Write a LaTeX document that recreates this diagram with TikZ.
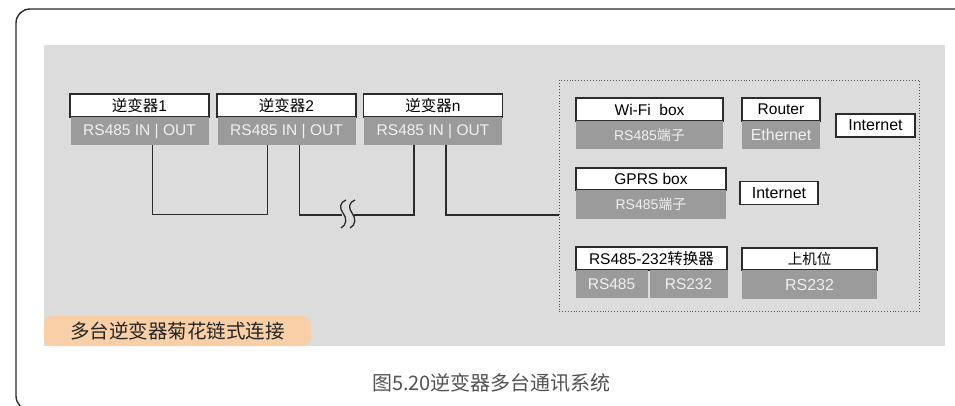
\documentclass[tikz,border=0pt]{standalone}
\usepackage{fontspec}
\setmainfont{Liberation Sans}
\newfontfamily\cjk{Noto Sans CJK SC}
\usetikzlibrary{calc}
\definecolor{bggray}{HTML}{DCDCDC}
\definecolor{portgray}{HTML}{9B9B9B}
\definecolor{tagorange}{HTML}{F8CFA6}
\definecolor{wirecol}{HTML}{2B2B2B}

\begin{document}
\begin{tikzpicture}[x=1pt,y=-1pt,
    wire/.style={draw=wirecol,line width=1.3pt},
    labelbox/.style={draw=wirecol,line width=1.4pt,fill=white,inner sep=0pt,
        minimum height=23pt,font=\fontsize{15.5}{16}\selectfont},
    portbox/.style={fill=portgray,inner sep=0pt,minimum height=28pt,anchor=north,
        text=white!94!black,font=\fontsize{15.5}{16}\selectfont},
    netbox/.style={draw=wirecol,line width=1.4pt,fill=white,inner sep=0pt,
        minimum width=78pt,minimum height=23pt,font=\fontsize{16}{16}\selectfont}]
    \useasboundingbox (0,0) rectangle (955,405);
    \clip (0,0) rectangle (955,405);
    % frame and background
    \draw[wirecol,line width=1.4pt,rounded corners=14pt] (16,9) rectangle (990,410);
    \fill[bggray] (44,45) rectangle (945,346);
    \node[fill=tagorange,rounded corners=8pt,minimum width=267pt,minimum height=30pt,
        inner sep=0pt,font=\cjk\fontsize{19.5}{20}\selectfont,text=black!85] (tag)
        at (177.5,331) {多台逆变器菊花链式连接};
    \node[font=\cjk\fontsize{20}{20}\selectfont,text=black!68] (caption)
        at (491.5,383) {图5.20逆变器多台通讯系统};
    % inverters
    \foreach \n/\cx/\t in {1/139.5/1,2/286.5/2,n/433/n}{
        \node[labelbox,minimum width=139pt] (inv\n) at (\cx,105.5) {{\cjk 逆变器}\t};
        \node[portbox,minimum width=138pt] (inv\n p) at ([yshift=0.7pt]inv\n.south) {RS485 IN | OUT};
        \coordinate (inv\n in) at ([xshift=-19pt]inv\n p.south);
        \coordinate (inv\n out) at ([xshift=13pt]inv\n p.south);
    }
    % communication devices
    \node[draw=wirecol!80,dotted,line width=0.9pt,minimum width=360pt,minimum height=231pt,
        inner sep=0pt] (rbox) at (739,195.5) {};
    \node[labelbox,minimum width=147pt] (wifi) at (649.5,109.5) {Wi-Fi\ \ box};
    \node[portbox,minimum width=147pt,font=\fontsize{14}{14}\selectfont] (wifip)
        at ([yshift=0.7pt]wifi.south) {RS485{\cjk 端子}};
    \node[labelbox,minimum width=78pt] (router) at (781,109.5) {Router};
    \node[portbox,minimum width=78pt,font=\fontsize{16}{16}\selectfont] (routerp)
        at ([yshift=0.7pt]router.south) {Ethernet};
    \node[netbox,minimum width=79pt] (net1) at (875.5,125.5) {Internet};
    \node[labelbox,minimum width=150pt,minimum height=22pt] (gprs) at (651,179) {GPRS box};
    \node[portbox,minimum width=150pt,minimum height=29pt,font=\fontsize{14}{14}\selectfont]
        (gprsp) at ([yshift=0.7pt]gprs.south) {RS485{\cjk 端子}};
    \node[netbox] (net2) at (779,193) {Internet};
    \node[labelbox,minimum width=151pt] (conv) at (651.5,258.5)
        {RS485-232{\cjk 转换器}};
    \node[portbox,minimum width=72pt,anchor=north west] (convl)
        at ([yshift=0.7pt]conv.south west) {RS485};
    \node[portbox,minimum width=78pt,anchor=north east] (convr)
        at ([yshift=0.7pt]conv.south east) {RS232};
    \node[labelbox,minimum width=135pt,minimum height=22pt,font=\cjk\fontsize{14.5}{15}\selectfont]
        (host) at (809.5,259) {上机位};
    \node[portbox,minimum width=135pt,minimum height=29pt,font=\fontsize{16}{16}\selectfont]
        (hostp) at ([yshift=0.7pt]host.south) {RS232};
    % daisy chain
    \coordinate (brk) at (348,215);
    \draw[wire] (inv1out) -- ++(0,69) -| (inv2in);
    \draw[wire] (inv2out) |- ([xshift=-6pt]brk);
    \draw[wire] ([xshift=6pt]brk) -| (invnin);
    \draw[wire] (invnout) |- (rbox.west |- brk);
    \begin{scope}[shift={(brk)}]
        \foreach \d in {0,9}{
            \draw[wirecol,line width=1.3pt] (-2+\d,-15) .. controls (-8+\d,-13) and (-9+\d,-7) .. (-5+\d,-2)
                .. controls (-1+\d,3) and (-1+\d,10) .. (-7+\d,13);
        }
    \end{scope}
\end{tikzpicture}
\end{document}
